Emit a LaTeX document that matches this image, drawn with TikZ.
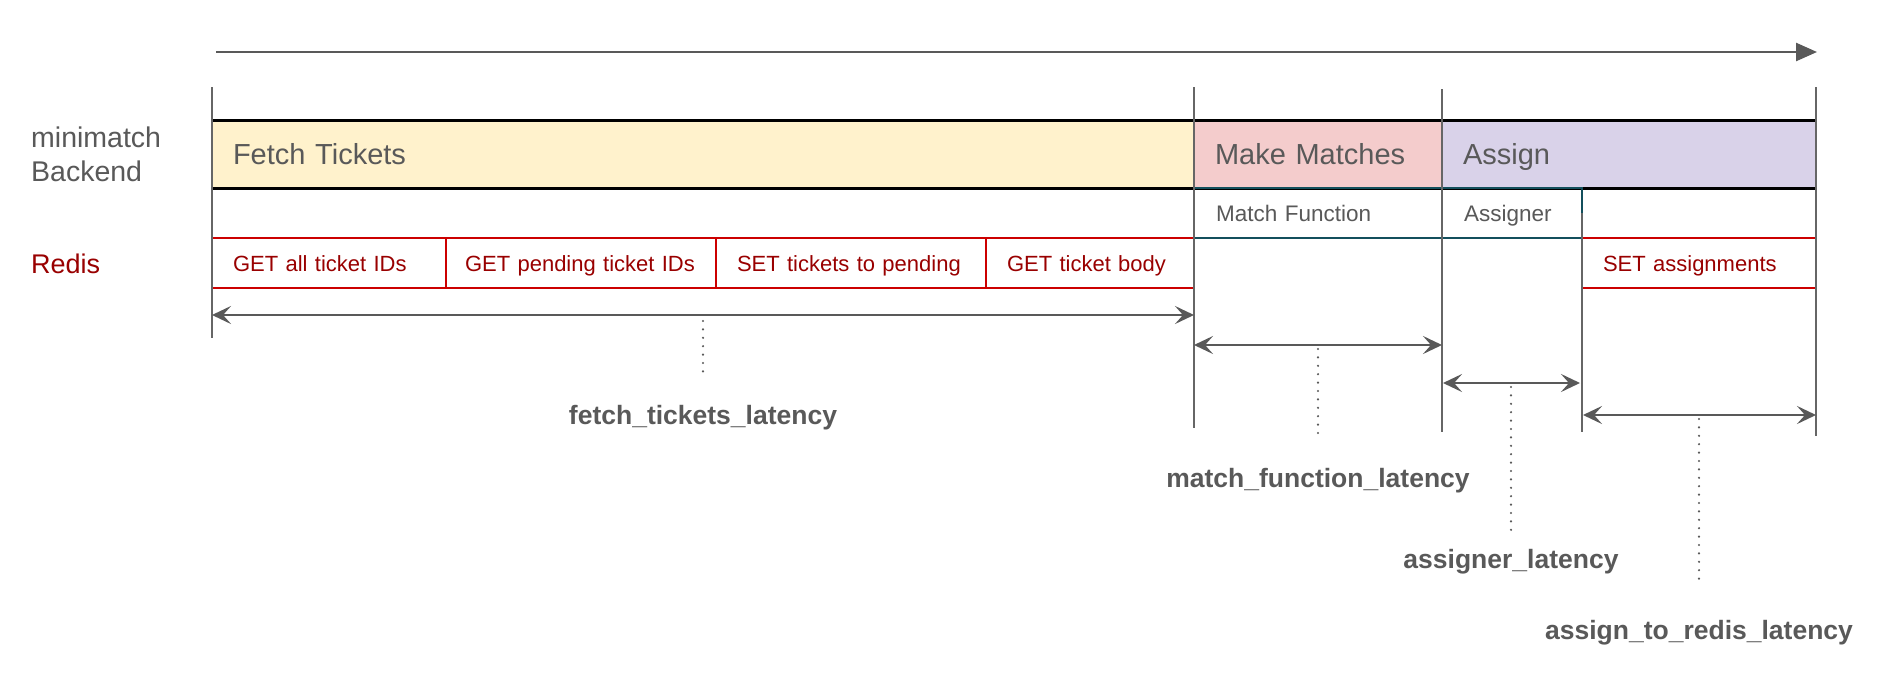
\documentclass[tikz,border=0pt]{standalone}
\usepackage{fontspec}
\setmainfont{Liberation Sans}
\usetikzlibrary{arrows.meta}

\definecolor{txtgray}{HTML}{595959}
\definecolor{linegray}{HTML}{666666}
\definecolor{redline}{HTML}{CC0000}
\definecolor{redtext}{HTML}{990000}
\definecolor{tealline}{HTML}{134F5C}
\definecolor{fetchfill}{HTML}{FFF2CC}
\definecolor{makefill}{HTML}{F4CCCC}
\definecolor{assignfill}{HTML}{D9D2E9}

\tikzset{
  stage/.style={anchor=north west, minimum height=68pt, inner xsep=21pt, inner ysep=0pt,
    outer sep=0pt, text height=21pt, text depth=0pt, align=left, text=txtgray,
    font=\fontsize{29}{34}\selectfont},
  sub/.style={anchor=north west, draw=tealline, line width=2pt, minimum height=50pt,
    inner xsep=22pt, inner ysep=0pt, outer sep=0pt, text height=16pt, text depth=0pt,
    align=left, text=txtgray, font=\fontsize{22.5}{27}\selectfont},
  redisop/.style={anchor=north west, draw=redline, line width=2pt, minimum height=50pt,
    inner xsep=21pt, inner ysep=0pt, outer sep=0pt, text height=16pt, text depth=0pt,
    align=left, text=redtext, font=\fontsize{22}{26}\selectfont},
  stageline/.style={draw=black, line width=3pt},
  tick/.style={draw=linegray, line width=2.2pt},
  timeline/.style={draw=txtgray, line width=2.5pt, -{Triangle[length=21pt,width=18pt]}},
  dim/.style={draw=txtgray, line width=2.8pt, >={Stealth[length=19pt,width=18pt,inset=8pt]}, <->},
  leader/.style={draw=txtgray, line width=2.4pt, line cap=round, dash pattern=on 0pt off 8.4pt},
  lat/.style={anchor=base, inner sep=0pt, text height=20pt, text depth=6pt, text=txtgray,
    font=\fontsize{26.5}{32}\selectfont\bfseries}
}

\begin{document}
\begin{tikzpicture}[x=1pt,y=-1pt]
  \useasboundingbox[fill=white] (0,0) rectangle (1882,672);

  % Time axis
  \coordinate (tstart) at (216,52);
  \coordinate (tend) at (1817,52);
  \draw[timeline] (tstart) -- (tend);

  % Row labels
  \node[anchor=base west, align=left, inner sep=0pt, text=txtgray,
    font=\fontsize{28.5}{34}\selectfont] (backend) at (31,181) {minimatch\\Backend};
  \node[anchor=base west, inner sep=0pt, text=redtext,
    font=\fontsize{27}{32}\selectfont] (redis) at (31,273) {Redis};

  % Backend stages
  \node[stage, fill=fetchfill, text width=940pt] (fetch) at (212,120) {Fetch Tickets};
  \node[stage, fill=makefill, text width=206pt] (make) at (fetch.north east) {Make Matches};
  \node[stage, fill=assignfill, text width=332pt] (assign) at (make.north east) {Assign};
  \draw[stageline] (fetch.north west) -- (assign.north east);
  \draw[stageline] (fetch.south west) -- (assign.south east);

  % Sub steps
  \node[sub, text width=204pt] (mf) at (fetch.south east) {Match Function};
  \node[sub, text width=96pt] (assigner) at (mf.north east) {Assigner};

  % Redis calls
  \node[redisop, text width=192pt] (getall) at (212,238) {GET all ticket IDs};
  \node[redisop, inner xsep=19pt, text width=232pt] (getpend) at (getall.north east)
    {\mbox{GET pending ticket IDs}};
  \node[redisop, text width=228pt] (setpend) at (getpend.north east) {SET tickets to pending};
  \node[redisop, text width=166pt] (getbody) at (setpend.north east) {GET ticket body};
  \node[redisop, text width=192pt] (setassign) at (assigner.south east) {SET assignments};

  % Vertical markers
  \foreach \n/\x/\ya/\yb in {0/212/87/338, 1/1194/87/428, 2/1442/89/432, 4/1816/87/436}{
    \coordinate (top\n) at (\x,\ya);
    \coordinate (bot\n) at (\x,\yb);
    \draw[tick] (top\n) -- (bot\n);
  }
  \coordinate (bot3) at (1582,432);
  \draw[tick] (assigner.east) -- (bot3);

  % Latency spans
  \coordinate (fetchL) at (212,315);
  \coordinate (fetchR) at (1194,315);
  \coordinate (mfL) at (1194,345);
  \coordinate (mfR) at (1442,345);
  \coordinate (asgL) at (1443,383);
  \coordinate (asgR) at (1580,383);
  \coordinate (redisL) at (1583,415);
  \coordinate (redisR) at (1816,415);
  \draw[dim] (fetchL) -- (fetchR);
  \draw[dim] (mfL) -- (mfR);
  \draw[dim] (asgL) -- (asgR);
  \draw[dim] (redisL) -- (redisR);

  % Latency labels
  \node[lat] (fetchlat) at (703,424) {fetch\_tickets\_latency};
  \node[lat] (mflat) at (1318,487) {match\_function\_latency};
  \node[lat] (asglat) at (1511,568) {assigner\_latency};
  \node[lat] (redislat) at (1699,639) {assign\_to\_redis\_latency};
  \draw[leader, shorten <=6pt] (fetchL -| fetchlat) -- ([yshift=32pt]fetchlat.north);
  \draw[leader, shorten <=4pt] (mfL -| mflat) -- ([yshift=26pt]mflat.north);
  \draw[leader, shorten <=4pt] (asgL -| asglat) -- ([yshift=18pt]asglat.north);
  \draw[leader, shorten <=4pt] (redisL -| redislat) -- ([yshift=32pt]redislat.north);
\end{tikzpicture}
\end{document}
